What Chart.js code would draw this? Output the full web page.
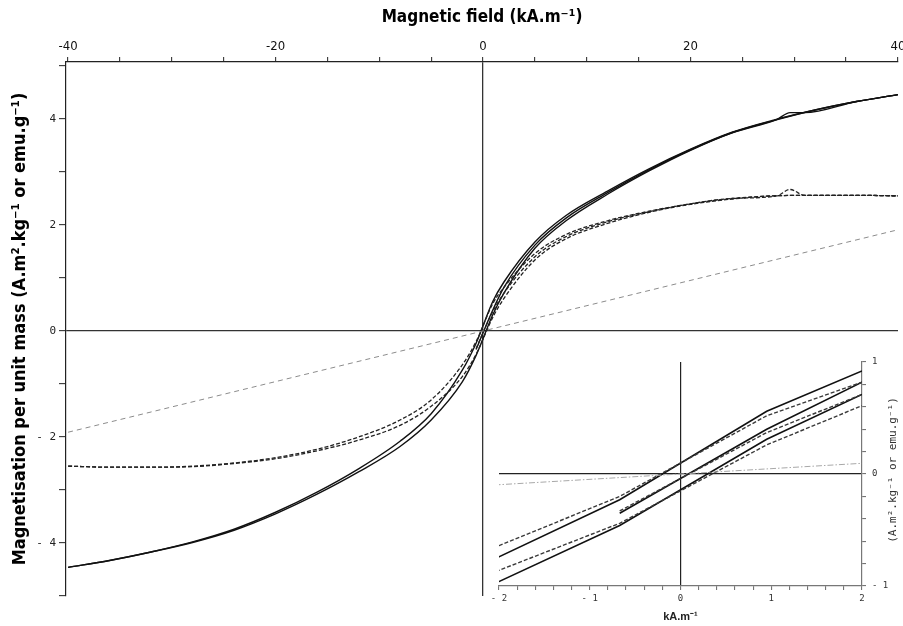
<!DOCTYPE html>
<html>
<head>
<meta charset="utf-8">
<title>Magnetisation per unit mass</title>
<script src="https://cdn.jsdelivr.net/npm/chart.js@4.4.0/dist/chart.umd.min.js"></script>
<style>
    html, body { margin: 0; padding: 0; background: #fff; overflow: hidden; }
    #wrap { position: relative; width: 903px; height: 626px; }
    #mainChart { position: absolute; left: 0; top: 0; }
    #insetChart { position: absolute; left: 480px; top: 345px; }
</style>
</head>
<body>
<div id="wrap">
    <canvas id="mainChart" width="903" height="626"></canvas>
    <canvas id="insetChart" width="423" height="281"></canvas>
</div>
<script>
// Field steps (kA.m-1)
const fieldLoop = [-40, -36, -32, -28, -24, -20, -16, -12, -8, -5, -2, -0.67, 0.95, 2, 5, 8, 12, 16, 20, 24, 28, 32, 36, 40];
const fieldInitial = [-0.67, 0.95, 2, 5, 8, 12, 16, 20, 24, 28.3, 29.6, 31, 36, 40];
const fieldPara = [-40, 40];

// Sample 1 (solid lines)
const solidUpper = [-4.46, -4.33, -4.17, -3.98, -3.74, -3.42, -3.04, -2.60, -2.08, -1.56, -0.74, -0.23, 0.56, 0.92, 1.68, 2.18, 2.64, 3.06, 3.43, 3.75, 3.98, 4.17, 4.33, 4.46];
const solidLower = [-4.46, -4.33, -4.17, -3.99, -3.76, -3.45, -3.08, -2.66, -2.18, -1.68, -0.96, -0.46, 0.31, 0.71, 1.56, 2.08, 2.58, 3.02, 3.41, 3.74, 3.97, 4.17, 4.33, 4.46];
const solidInitial = [-0.35, 0.40, 0.82, 1.62, 2.13, 2.61, 3.04, 3.42, 3.74, 3.99, 4.12, 4.12, 4.33, 4.46];

// Sample 2 (dashed lines)
const dashedUpper = [-2.55, -2.57, -2.57, -2.55, -2.49, -2.39, -2.23, -2.00, -1.68, -1.30, -0.64, -0.20, 0.52, 0.82, 1.46, 1.82, 2.08, 2.26, 2.40, 2.50, 2.55, 2.56, 2.56, 2.55];
const dashedLower = [-2.55, -2.57, -2.57, -2.56, -2.50, -2.41, -2.26, -2.06, -1.78, -1.42, -0.86, -0.44, 0.26, 0.61, 1.34, 1.74, 2.03, 2.24, 2.39, 2.49, 2.55, 2.56, 2.56, 2.55];
const dashedInitial = [-0.33, 0.37, 0.71, 1.40, 1.78, 2.06, 2.25, 2.40, 2.50, 2.55, 2.67, 2.56, 2.56, 2.55];

// Paramagnetic contribution (grey line)
const paraMoment = [-1.91, 1.91];

// Tick labels
const mainXLabels = [-40, -20, 0, 20, 40];
const mainYLabels = [-4, -2, 0, 2, 4];
const insetXLabels = [-2, -1, 0, 1, 2];
const insetYLabels = [-1, 0, 1];

const narrow = "'Liberation Sans Narrow', 'DejaVu Sans Condensed', 'Liberation Sans', sans-serif";
const mono = "'DejaVu Sans Mono', 'Liberation Mono', monospace";
const sans = "'Liberation Sans', Arial, sans-serif";
const clear = 'rgba(0,0,0,0)';

function toPoints(xs, ys) {
    return xs.map(function(x, i) {
        return { x: x, y: ys[i] };
    });
}

function signed(v) {
    return v < 0 ? '- ' + Math.abs(v) : String(v);
}

function isLabel(v, list) {
    return list.some(function(l) { return Math.abs(l - v) < 1e-6; });
}

function zeroLine(colour) {
    return function(ctx) {
        return ctx.tick && Math.abs(ctx.tick.value) < 1e-9 ? colour : clear;
    };
}

function makeDatasets(forInset) {
    const solid = { borderColor: '#111', borderWidth: forInset ? 1.6 : 1.4, borderDash: [] };
    const dashed = { borderColor: forInset ? '#3a3a3a' : '#222', borderWidth: forInset ? 1.4 : 1.3, borderDash: [4, 2] };
    const para = forInset
        ? { borderColor: '#a8a8a8', borderWidth: 1, borderDash: [6, 2, 1.5, 2] }
        : { borderColor: '#8c8c8c', borderWidth: 1, borderDash: [5, 4] };

    const series = [
        [fieldPara, paraMoment, para],
        [fieldLoop, dashedUpper, dashed],
        [fieldLoop, dashedLower, dashed],
        [fieldInitial, dashedInitial, dashed],
        [fieldLoop, solidUpper, solid],
        [fieldLoop, solidLower, solid],
        [fieldInitial, solidInitial, solid]
    ];

    return series.map(function(s) {
        return Object.assign({
            data: toPoints(s[0], s[1]),
            pointRadius: 0,
            fill: false,
            tension: 0,
            cubicInterpolationMode: forInset ? 'default' : 'monotone'
        }, s[2]);
    });
}

// Main chart
new Chart(document.getElementById('mainChart'), {
    type: 'line',
    data: { datasets: makeDatasets(false) },
    options: {
        responsive: false,
        animation: false,
        events: [],
        layout: { padding: { left: 0, top: 0, right: 5, bottom: 30 } },
        plugins: {
            legend: { display: false },
            tooltip: { enabled: false }
        },
        scales: {
            x: {
                type: 'linear',
                position: 'top',
                min: -40.2,
                max: 40,
                ticks: {
                    stepSize: 5,
                    includeBounds: false,
                    autoSkip: false,
                    maxRotation: 0,
                    padding: 3,
                    color: '#111',
                    font: { family: narrow, size: 13 },
                    callback: function(v) { return isLabel(v, mainXLabels) ? String(v) : ''; }
                },
                grid: { color: zeroLine('#333'), lineWidth: 1.3, tickColor: '#222', tickWidth: 1, tickLength: 5 },
                border: { color: '#222', width: 1.2 },
                title: {
                    display: true,
                    text: 'Magnetic field (kA.m⁻¹)',
                    color: '#000',
                    font: { family: narrow, size: 17, weight: 'bold' },
                    padding: { top: 7, bottom: 0 }
                },
                afterFit: function(s) { s.height = 62; s.paddingLeft = 0; s.paddingRight = 0; }
            },
            y: {
                type: 'linear',
                min: -5,
                max: 5.0755,
                ticks: {
                    stepSize: 1,
                    includeBounds: false,
                    autoSkip: false,
                    padding: 3,
                    color: '#222',
                    font: { family: mono, size: 11 },
                    callback: function(v) { return isLabel(v, mainYLabels) ? signed(v) : ''; }
                },
                grid: { color: zeroLine('#333'), lineWidth: 1.3, tickColor: '#222', tickWidth: 1, tickLength: 7 },
                border: { color: '#222', width: 1.2 },
                title: {
                    display: true,
                    text: 'Magnetisation per unit mass (A.m².kg⁻¹ or emu.g⁻¹)',
                    color: '#000',
                    font: { family: narrow, size: 18, weight: 'bold' },
                    padding: { top: 10, bottom: 0 }
                },
                afterFit: function(s) { s.width = 66; s.paddingTop = 0; s.paddingBottom = 0; }
            }
        }
    }
});

// Rotated unit label on the right of the inset
const insetYTitle = {
    id: 'insetYTitle',
    afterDraw: function(chart) {
        const ctx = chart.ctx;
        const area = chart.chartArea;
        ctx.save();
        ctx.translate(area.right + 31, (area.top + area.bottom) / 2 - 4);
        ctx.rotate(-Math.PI / 2);
        ctx.font = "11px " + mono;
        ctx.fillStyle = '#333';
        ctx.textAlign = 'center';
        ctx.textBaseline = 'middle';
        ctx.fillText('(A.m².kg⁻¹ or emu.g⁻¹)', 0, 0);
        ctx.restore();
    }
};

// Inset (zoom around the origin)
new Chart(document.getElementById('insetChart'), {
    type: 'line',
    data: { datasets: makeDatasets(true) },
    options: {
        responsive: false,
        animation: false,
        events: [],
        layout: { padding: { left: 19, top: 17, right: 0, bottom: 0 } },
        plugins: {
            legend: { display: false },
            tooltip: { enabled: false }
        },
        scales: {
            x: {
                type: 'linear',
                position: 'bottom',
                min: -2,
                max: 2,
                ticks: {
                    stepSize: 0.2,
                    autoSkip: false,
                    maxRotation: 0,
                    padding: 3,
                    color: '#333',
                    font: { family: mono, size: 9 },
                    callback: function(v) { return isLabel(v, insetXLabels) ? signed(Math.round(v)) : ''; }
                },
                grid: { color: zeroLine('#222'), lineWidth: 1.2, tickColor: '#666', tickWidth: 1, tickLength: 4 },
                border: { color: '#777', width: 1.2 },
                title: {
                    display: true,
                    text: 'kA.m⁻¹',
                    color: '#222',
                    font: { family: sans, size: 11, weight: 'bold' },
                    padding: { top: 0, bottom: 2 }
                },
                afterFit: function(s) { s.height = 40; s.paddingLeft = 0; s.paddingRight = 0; }
            },
            y: {
                type: 'linear',
                position: 'right',
                min: -1,
                max: 1,
                ticks: {
                    stepSize: 0.2,
                    autoSkip: false,
                    padding: 6,
                    color: '#333',
                    font: { family: mono, size: 9 },
                    callback: function(v) { return isLabel(v, insetYLabels) ? signed(Math.round(v)) : ''; }
                },
                grid: { color: zeroLine('#222'), lineWidth: 1.2, tickColor: '#666', tickWidth: 1, tickLength: 4 },
                border: { color: '#777', width: 1.2 },
                afterFit: function(s) { s.width = 41; s.paddingTop = 0; s.paddingBottom = 0; }
            }
        }
    },
    plugins: [insetYTitle]
});
</script>
</body>
</html>
